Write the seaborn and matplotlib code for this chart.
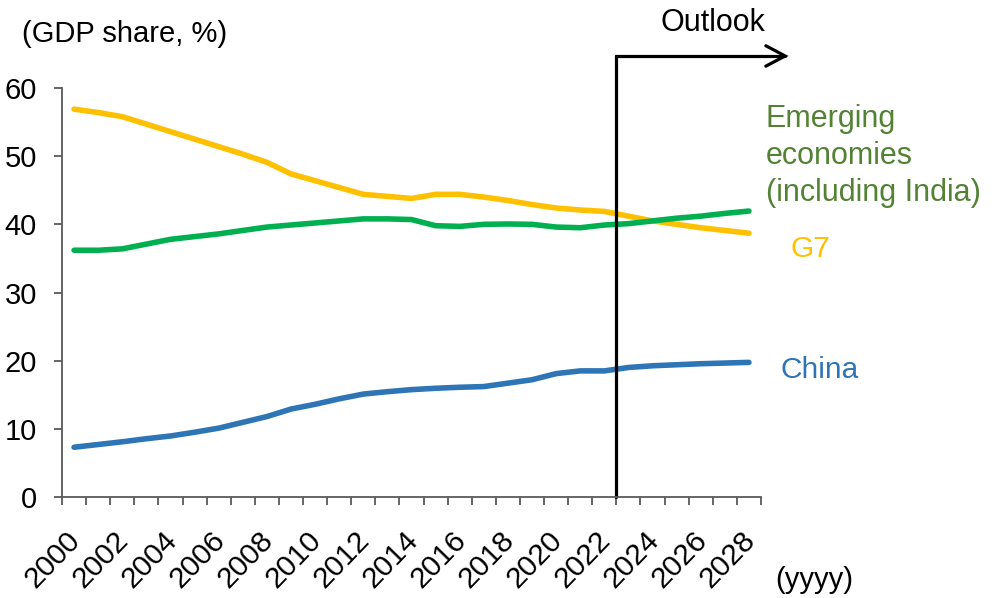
import numpy as np
import pandas as pd
import matplotlib
matplotlib.use("Agg")
import matplotlib.pyplot as plt
import matplotlib.transforms as mtransforms
import seaborn as sns

years = list(range(2000, 2029))

g7 = [56.9, 56.4, 55.8, 54.7, 53.6, 52.5, 51.4, 50.3, 49.1, 47.4,
      46.4, 45.4, 44.4, 44.1, 43.8, 44.4, 44.4, 44.0, 43.5, 42.9,
      42.4, 42.1, 41.9, 41.2, 40.5, 40.0, 39.5, 39.1, 38.7]

emerging = [36.2, 36.2, 36.4, 37.1, 37.8, 38.2, 38.6, 39.1, 39.6, 39.9,
            40.2, 40.5, 40.8, 40.8, 40.7, 39.8, 39.7, 40.0, 40.05, 40.0,
            39.6, 39.5, 39.9, 40.1, 40.5, 40.9, 41.2, 41.6, 41.95]

china = [7.3, 7.7, 8.1, 8.55, 8.95, 9.5, 10.1, 10.95, 11.8, 12.9,
         13.6, 14.4, 15.1, 15.45, 15.75, 15.95, 16.1, 16.2, 16.7, 17.2,
         18.1, 18.5, 18.5, 19.0, 19.25, 19.4, 19.55, 19.65, 19.75]

series_names = ["G7", "Emerging", "China"]
line_colors = {"G7": "#FFC000", "Emerging": "#00B050", "China": "#2E75B6"}

outlook_start = 2022.5

df = pd.DataFrame({
    "year": years * 3,
    "share": g7 + emerging + china,
    "group": ["G7"] * len(years) + ["Emerging"] * len(years) + ["China"] * len(years),
})

sns.set_style("ticks")
plt.rcParams["font.family"] = ["Liberation Sans", "DejaVu Sans"]
plt.rcParams["text.color"] = "black"
plt.rcParams["xtick.labelcolor"] = "black"
plt.rcParams["ytick.labelcolor"] = "black"

W, H = 1007, 598
fig = plt.figure(figsize=(W / 100, H / 100), dpi=100)
ax = fig.add_axes([62 / W, 1 - 497 / H, (761 - 62) / W, (497 - 88) / H])

sns.lineplot(data=df, x="year", y="share", hue="group", hue_order=series_names,
             palette=line_colors, linewidth=4.0, ax=ax, legend=False,
             solid_capstyle="round", solid_joinstyle="round")

ax.set_xlim(1999.5, 2028.5)
ax.set_ylim(0, 60)
ax.set_xlabel("")
ax.set_ylabel("")

axis_grey = "#595959"
for side in ["top", "right"]:
    ax.spines[side].set_visible(False)
for side in ["left", "bottom"]:
    ax.spines[side].set_color(axis_grey)
    ax.spines[side].set_linewidth(1.3)

# y axis
ax.set_yticks(range(0, 61, 10))
ax.tick_params(axis="y", left=True, direction="out", length=6, width=1.3,
               color=axis_grey, labelsize=21, pad=12, labelcolor="black")

# x axis: tick marks on category boundaries, labels at every second year
boundaries = np.arange(1999.5, 2028.6, 1.0)
ax.set_xticks(boundaries)
ax.set_xticklabels([])
ax.tick_params(axis="x", which="major", bottom=True, direction="out", length=6,
               width=1.3, color=axis_grey)
label_years = years[::2]
ax.set_xticks(label_years, minor=True)
ax.set_xticklabels([str(y) for y in label_years], minor=True, rotation=46,
                   ha="right", va="top", fontsize=21.5, color="black")
ax.tick_params(axis="x", which="minor", bottom=True, length=0, pad=21)
shift = mtransforms.ScaledTranslation(12 / 100, 0, fig.dpi_scale_trans)
for lab in ax.get_xticklabels(minor=True):
    lab.set_transform(lab.get_transform() + shift)

# outlook marker
ax.plot([outlook_start, outlook_start, 2029.5], [0, 64.7, 64.7], color="black",
        lw=2.3, clip_on=False, solid_joinstyle="miter")
ax.plot([2028.7, 2029.5, 2028.7], [66.2, 64.7, 63.2], color="black", lw=2.3,
        clip_on=False, solid_joinstyle="miter", solid_capstyle="round")

def px(x, y):
    return x / W, 1 - y / H

fig.text(*px(22, 34), "(GDP share, %)", fontsize=21, va="center", ha="left")
fig.text(*px(660, 23), "Outlook", fontsize=22, va="center", ha="left")
fig.text(*px(775, 580), "(yyyy)", fontsize=21, va="center", ha="left")
fig.text(*px(766, 156), "Emerging\neconomies\n(including India)", fontsize=22,
         va="center", ha="left", color="#548235", linespacing=1.3)
fig.text(*px(790, 249), "G7", fontsize=21.5, va="center", ha="left", color="#FFC000")
fig.text(*px(780, 370), "China", fontsize=21.5, va="center", ha="left", color="#2E75B6")

fig.savefig("out.png", dpi=100)
